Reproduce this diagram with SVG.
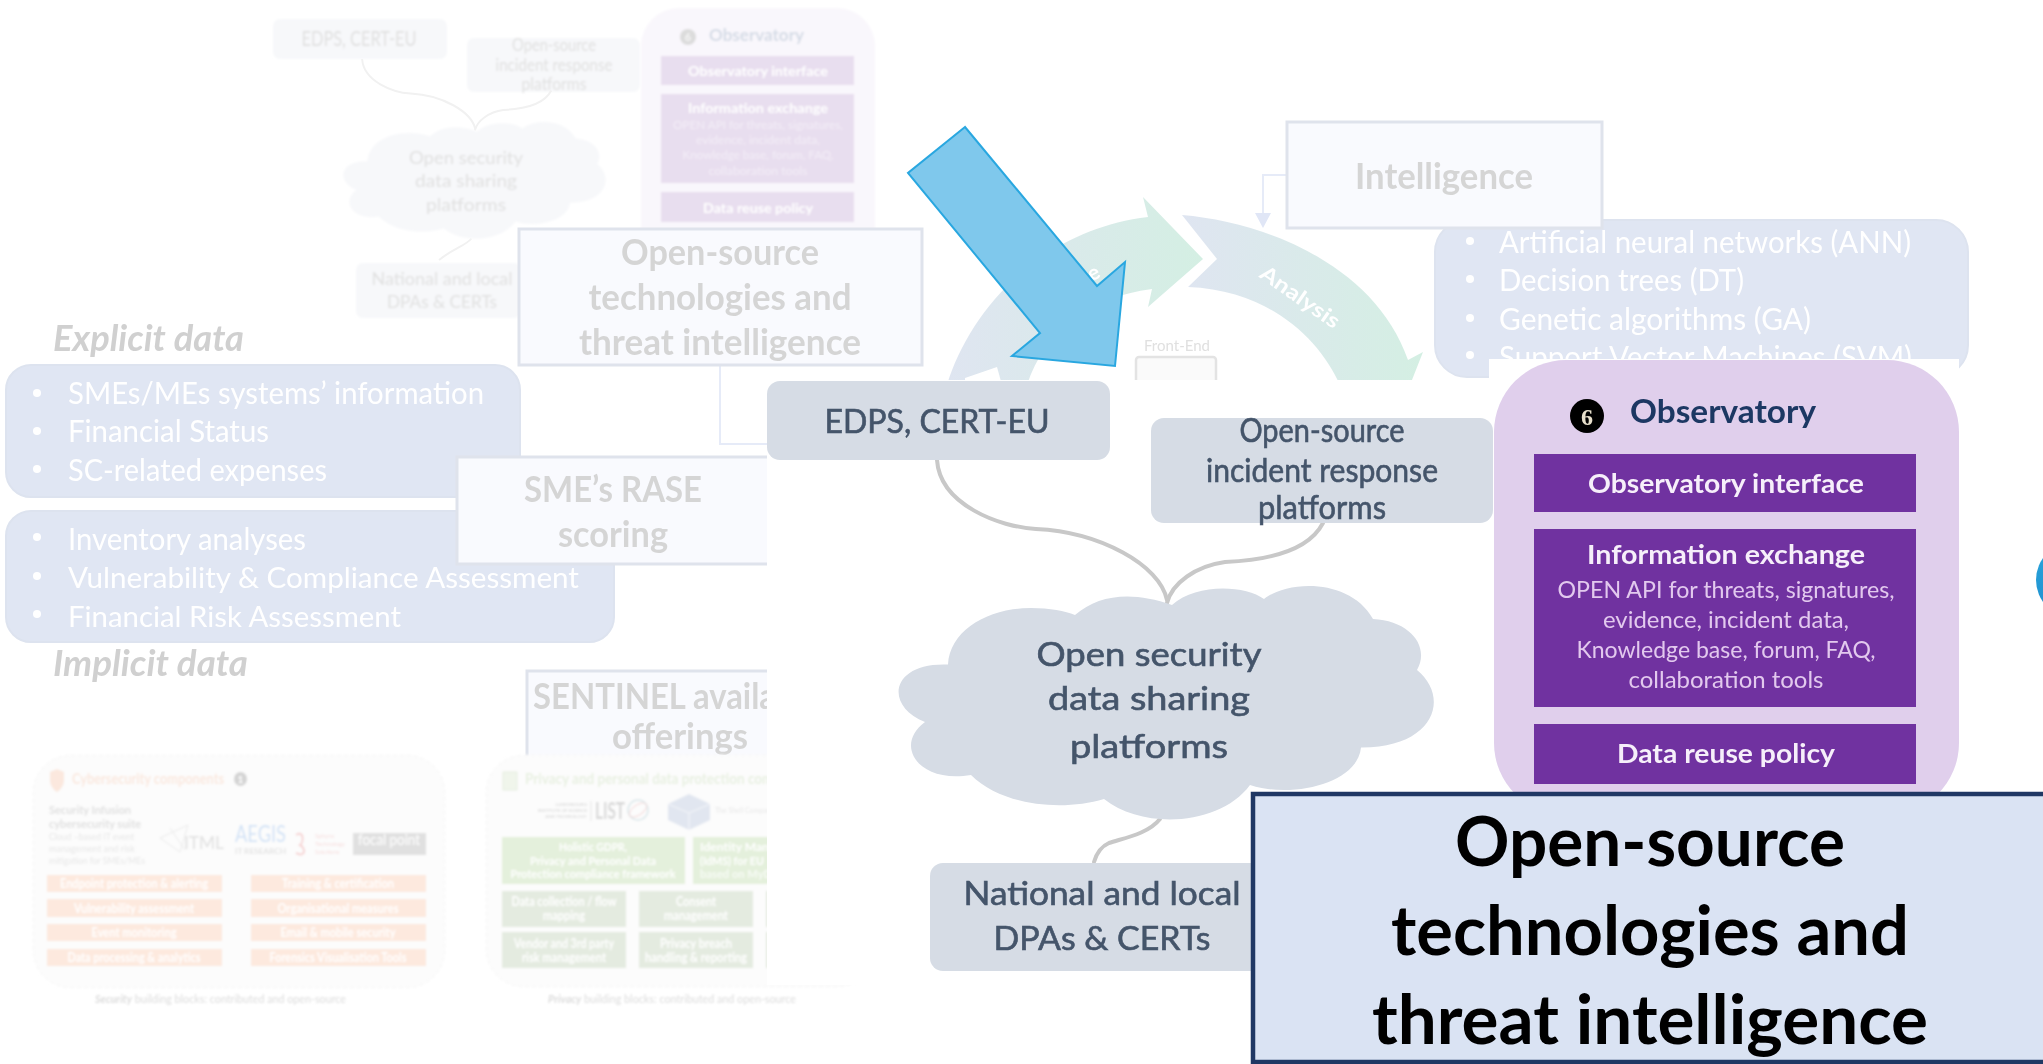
<svg xmlns="http://www.w3.org/2000/svg" xmlns:xlink="http://www.w3.org/1999/xlink" width="2043" height="1064" viewBox="0 0 2043 1064">
<style>
text{font-family:Lato,"Liberation Sans",sans-serif}
.m{text-anchor:middle}
.fbox{fill:#f9fafe;stroke:#dfe3ec;stroke-width:3}
.ft{fill:#d5d5d5;font-weight:700;font-size:36px}
.fi{fill:#d0d0d0;font-weight:700;font-style:italic;font-size:36px}
.list{fill:#e0e6f3;stroke:#dde3ef;stroke-width:2}
.li{fill:#fff;font-size:30px}
.li2{fill:#fff;font-size:28px}
.gs{fill:#f7f8fa}
.gst{fill:#e0e0e0;font-size:21px}
.gss{fill:#e0e0e0;font-size:17.5px}
.fp{fill:#e8deef}
.fpt{fill:#fff;font-weight:700;font-size:14px}
.fps{fill:#f3edf7;font-size:12px}
.pan{fill:#fcfcfc;stroke:#f6f6f6;stroke-width:1;stroke-dasharray:4 3}
.or{fill:#fde9de}
.ort{fill:#fff;font-weight:700;font-size:13px}
.gr{fill:#e4f0dc}
.gr2{fill:#e4ebe0}
.grt{fill:#fff;font-weight:700;font-size:13.5px}
.cap{fill:#dcdcdc;font-size:12px}
.g{fill:#d6dce5}
.gt{fill:#44546a;stroke:#44546a;stroke-width:.6;font-size:32px}
.gc{fill:none;stroke:#c8c8c8;stroke-width:4;stroke-linecap:round}
.fc{fill:none;stroke:#f1f1f1;stroke-width:4}
.p{fill:#7030a0}
.pt{fill:#f6effa;font-weight:700;font-size:26px}
.ps{fill:#e2c9ee;font-size:23px}
.ob{fill:#e0cfec}
.bt{fill:#000;font-weight:700;font-size:69px}
</style>
<defs>
<filter id="b" x="-5%" y="-5%" width="110%" height="110%"><feGaussianBlur stdDeviation="0.9"/></filter>
<filter id="b2" x="-5%" y="-5%" width="110%" height="110%"><feGaussianBlur stdDeviation="0.55"/></filter>
<linearGradient id="arcG" x1="0" y1="0" x2="1" y2="0"><stop offset="0" stop-color="#dfe5f1"/><stop offset="1" stop-color="#d4efe3"/></linearGradient>
<linearGradient id="ball" x1="0" y1="0" x2="0" y2="1"><stop offset="0" stop-color="#29a6dc"/><stop offset="1" stop-color="#1f8fcf"/></linearGradient>
<path id="cloud" d="M948 664.500C950 630 988 608 1031 608C1050 608 1065 611 1075 615C1099 594 1133 591 1172 605C1196 583 1245 585 1264 599C1288 580 1350 578 1373 619C1411 621 1430 647 1417 670C1451 698 1434 748 1361 747.500C1358 783 1293 799 1250 785C1220 826 1143 830 1104 799C1060.500 812 1001 805 971 775C919 784 893 745.500 925 722C884 706 890 662 948 664.500Z"/>
</defs>
<rect width="2043" height="1064" fill="#fff"/>

<g id="faded-edps" filter="url(#b)"><rect class="gs" x="273" y="19" width="174" height="40" rx="7"/><text class="gst m" x="359" y="46" textLength="115" lengthAdjust="spacingAndGlyphs">EDPS, CERT-EU</text></g>
<g id="faded-incident" filter="url(#b)"><rect class="gs" x="467" y="38" width="173" height="54" rx="7"/><text class="gss m" x="554" y="51" textLength="84" lengthAdjust="spacingAndGlyphs">Open-source</text><text class="gss m" x="554" y="71" textLength="117" lengthAdjust="spacingAndGlyphs">incident response</text><text class="gss m" x="554" y="90" textLength="65" lengthAdjust="spacingAndGlyphs">platforms</text></g>
<g id="faded-connectors" transform="translate(-97,-171) scale(.49,.5)" filter="url(#b)">
<path class="fc" d="M937 460C940 505 1000 527 1036 529C1100 532 1160 565 1168 600"/>
<path class="fc" d="M1323 523C1310 548 1274 560 1225 562C1196 566 1172 583 1167 603"/>
<path class="fc" d="M1160 819C1148 834 1124 838 1094 862"/>
</g>
<g id="faded-cloud" filter="url(#b)"><use xlink:href="#cloud" href="#cloud" transform="translate(-97,-171) scale(.49,.5)" fill="#f7f8fa"/><text class="gss m" x="466" y="164" textLength="114" lengthAdjust="spacingAndGlyphs">Open security</text><text class="gss m" x="466" y="187" textLength="102" lengthAdjust="spacingAndGlyphs">data sharing</text><text class="gss m" x="466" y="211" textLength="80" lengthAdjust="spacingAndGlyphs">platforms</text></g>
<g id="faded-national" filter="url(#b)"><rect class="gs" x="356" y="263" width="165" height="55" rx="7"/><text class="gss m" x="442" y="285" textLength="141" lengthAdjust="spacingAndGlyphs">National and local</text><text class="gss m" x="442" y="308" textLength="110" lengthAdjust="spacingAndGlyphs">DPAs &amp; CERTs</text></g>
<g id="faded-observatory" filter="url(#b)">
<rect x="641" y="8" width="234" height="290" rx="38" fill="#f9f7fc"/>
<circle cx="688" cy="37" r="8" fill="#dcdcdc"/><text x="688" y="41" class="m" fill="#f5f5f5" font-size="11" font-weight="700">6</text>
<text x="709" y="41" fill="#d5dbe6" font-weight="700" font-size="17" textLength="95" lengthAdjust="spacingAndGlyphs">Observatory</text>
<rect class="fp" x="661" y="56" width="193" height="29"/><text class="fpt m" x="758" y="76" textLength="140" lengthAdjust="spacingAndGlyphs">Observatory interface</text>
<rect class="fp" x="661" y="94" width="193" height="89"/><text class="fpt m" x="758" y="113" textLength="140" lengthAdjust="spacingAndGlyphs">Information exchange</text>
<text class="fps m" x="758" y="129" textLength="170" lengthAdjust="spacingAndGlyphs">OPEN API for threats, signatures,</text><text class="fps m" x="758" y="144" textLength="124" lengthAdjust="spacingAndGlyphs">evidence, incident data,</text><text class="fps m" x="758" y="159" textLength="151" lengthAdjust="spacingAndGlyphs">Knowledge base, forum, FAQ,</text><text class="fps m" x="758" y="175" textLength="99" lengthAdjust="spacingAndGlyphs">collaboration tools</text>
<rect class="fp" x="661" y="192" width="193" height="30"/><text class="fpt m" x="758" y="213" textLength="110" lengthAdjust="spacingAndGlyphs">Data reuse policy</text>
</g>

<g id="cycle" filter="url(#b2)">
<path fill="url(#arcG)" d="M947 385C970 310 1040 230 1148 217L1143 197L1203 259L1148 307L1152 289C1090 297 1045 330 1027 385Z"/>
<path fill="#fff" d="M965 378L997 367L1002 385L965 385Z"/>
<path fill="url(#arcG)" d="M1182 215C1265 222 1375 265 1408 360L1423 352L1410 385H1340C1320 340 1270 290 1188 287L1217 259Z"/>
<text x="1093" y="280" fill="#fff" font-weight="700" font-size="21" class="m" transform="rotate(-28 1093 272)">e</text>
<text x="0" y="0" fill="#fff" font-weight="700" font-size="21" class="m" transform="translate(1296,303) rotate(35)" textLength="92" lengthAdjust="spacingAndGlyphs">Analysis</text>
<text x="1177" y="351" class="m" fill="#e0e0e0" font-size="15">Front-End</text>
<rect x="1136" y="357" width="80" height="40" rx="3" fill="#fafafa" stroke="#e3e3e3" stroke-width="2.500"/>
</g>

<g id="algorithms" filter="url(#b2)">
<rect class="list" x="1435" y="220" width="533" height="157" rx="32"/>
<g fill="#fff"><circle cx="1470" cy="241" r="4"/><circle cx="1470" cy="279" r="4"/><circle cx="1470" cy="318" r="4"/><circle cx="1470" cy="355" r="4"/></g>
<text class="li" x="1499" y="253" textLength="412" lengthAdjust="spacingAndGlyphs">Artificial neural networks (ANN)</text>
<text class="li" x="1499" y="291" textLength="245" lengthAdjust="spacingAndGlyphs">Decision trees (DT)</text>
<text class="li" x="1499" y="330" textLength="312" lengthAdjust="spacingAndGlyphs">Genetic algorithms (GA)</text>
<text class="li" x="1499" y="368" textLength="413" lengthAdjust="spacingAndGlyphs">Support Vector Machines (SVM)</text>
</g>
<g id="connectors-faded" fill="none" stroke="#e6ebf8" stroke-width="2" filter="url(#b2)">
<path d="M1286 175H1263V215"/><path d="M720 365V444H767"/><path d="M1255 213H1271L1263 228Z" fill="#e0e6f6" stroke="none"/>
</g>
<g id="intelligence" filter="url(#b2)"><rect class="fbox" x="1287" y="122" width="315" height="106"/><text class="ft m" x="1444" y="189" textLength="178" lengthAdjust="spacingAndGlyphs">Intelligence</text></g>

<g id="explicit-data" filter="url(#b2)">
<text class="fi" x="53" y="351" textLength="191" lengthAdjust="spacingAndGlyphs">Explicit data</text>
<rect class="list" x="6" y="365" width="514" height="132" rx="25"/>
<g fill="#fff"><circle cx="37" cy="393" r="4"/><circle cx="37" cy="431" r="4"/><circle cx="37" cy="469" r="4"/></g>
<text class="li" x="68" y="404" textLength="416" lengthAdjust="spacingAndGlyphs">SMEs/MEs systems’ information</text>
<text class="li" x="68" y="442" textLength="201" lengthAdjust="spacingAndGlyphs">Financial Status</text>
<text class="li" x="68" y="481" textLength="259" lengthAdjust="spacingAndGlyphs">SC-related expenses</text>
</g>
<g id="implicit-data" filter="url(#b2)">
<rect class="list" x="6" y="511" width="608" height="131" rx="25"/>
<g fill="#fff"><circle cx="37" cy="537" r="4"/><circle cx="37" cy="576" r="4"/><circle cx="37" cy="614" r="4"/></g>
<text class="li" x="68" y="550" textLength="238" lengthAdjust="spacingAndGlyphs">Inventory analyses</text>
<text class="li2" x="68" y="588" textLength="511" lengthAdjust="spacingAndGlyphs">Vulnerability &amp; Compliance Assessment</text>
<text class="li2" x="68" y="627" textLength="333" lengthAdjust="spacingAndGlyphs">Financial Risk Assessment</text>
<text class="fi" x="53" y="676" textLength="195" lengthAdjust="spacingAndGlyphs">Implicit data</text>
</g>
<g id="rase" filter="url(#b2)"><rect class="fbox" x="457" y="457" width="340" height="107"/><text class="ft m" x="613" y="502" textLength="178" lengthAdjust="spacingAndGlyphs">SME’s RASE</text><text class="ft m" x="613" y="547" textLength="110" lengthAdjust="spacingAndGlyphs">scoring</text></g>
<g id="open-source-faded" filter="url(#b2)"><rect class="fbox" x="519" y="229" width="403" height="136"/><text class="ft m" x="720" y="265" textLength="198" lengthAdjust="spacingAndGlyphs">Open-source</text><text class="ft m" x="720" y="310" textLength="263" lengthAdjust="spacingAndGlyphs">technologies and</text><text class="ft m" x="720" y="355" textLength="282" lengthAdjust="spacingAndGlyphs">threat intelligence</text></g>
<g id="sentinel" filter="url(#b2)"><rect class="fbox" x="527" y="671" width="290" height="110"/><text class="ft" x="533" y="709" textLength="243" lengthAdjust="spacingAndGlyphs">SENTINEL availa</text><text class="ft m" x="680" y="749" textLength="136" lengthAdjust="spacingAndGlyphs">offerings</text></g>

<g id="cybersecurity" filter="url(#b)">
<rect class="pan" x="33" y="755" width="412" height="233" rx="38"/>
<path d="M50 772L57 769L64 772V780C64 786 60 790 57 792C54 790 50 786 50 780Z" fill="#fbe8de"/>
<text x="72" y="784" fill="#fbe8de" font-weight="700" font-size="16" textLength="152" lengthAdjust="spacingAndGlyphs">Cybersecurity components</text>
<ellipse cx="240.500" cy="779" rx="6.500" ry="7" fill="#d4d4d4"/><text x="240.500" y="783" class="m" fill="#fff" font-size="10" font-weight="700">1</text>
<text x="49" y="814" fill="#e0e0e0" font-weight="700" font-size="12" textLength="82" lengthAdjust="spacingAndGlyphs">Security Infusion</text>
<text x="49" y="828" fill="#e0e0e0" font-weight="700" font-size="12" textLength="92" lengthAdjust="spacingAndGlyphs">cybersecurity suite</text>
<text x="49" y="840" fill="#e6e6e6" font-size="10" textLength="85" lengthAdjust="spacingAndGlyphs">Cloud –based IT event</text>
<text x="49" y="852" fill="#e6e6e6" font-size="10" textLength="86" lengthAdjust="spacingAndGlyphs">management and risk</text>
<text x="49" y="864" fill="#e6e6e6" font-size="10" textLength="96" lengthAdjust="spacingAndGlyphs">mitigation for SMEs/MEs</text>
<path d="M160 838L188 825L180 852ZM170 828L185 850" fill="none" stroke="#ebebeb"/>
<text x="184" y="849" fill="#e0e0e0" font-size="18" textLength="40" lengthAdjust="spacingAndGlyphs">ITML</text>
<text x="235" y="842" fill="#d3e3f6" font-size="24" textLength="51" lengthAdjust="spacingAndGlyphs">AEGIS</text>
<text x="235" y="854" fill="#e4e4e4" font-size="7" font-weight="700" textLength="51" lengthAdjust="spacingAndGlyphs">IT RESEARCH</text>
<path d="M296 835C304 830 304 842 300 845C306 848 306 858 296 853" fill="none" stroke="#f6d4d4" stroke-width="2"/>
<g fill="#f6dfdf" font-size="6"><text x="315" y="838">Sphynx</text><text x="315" y="846">Technology</text><text x="315" y="854">Solutions</text></g>
<rect x="353" y="833" width="73" height="22" fill="#e0e0e0"/><text x="389" y="845" class="m" fill="#fff" font-size="15" textLength="62" lengthAdjust="spacingAndGlyphs">focal point</text>
<rect class="or" x="47" y="875" width="175" height="17"/><text class="ort m" x="134" y="888" textLength="148" lengthAdjust="spacingAndGlyphs">Endpoint protection &amp; alerting</text>
<rect class="or" x="47" y="899" width="175" height="18"/><text class="ort m" x="134" y="913" textLength="120" lengthAdjust="spacingAndGlyphs">Vulnerability assessment</text>
<rect class="or" x="47" y="924" width="175" height="17"/><text class="ort m" x="134" y="937" textLength="85" lengthAdjust="spacingAndGlyphs">Event monitoring</text>
<rect class="or" x="47" y="949" width="175" height="17"/><text class="ort m" x="134" y="962" textLength="133" lengthAdjust="spacingAndGlyphs">Data processing &amp; analytics</text>
<rect class="or" x="251" y="875" width="175" height="17"/><text class="ort m" x="338" y="888" textLength="112" lengthAdjust="spacingAndGlyphs">Training &amp; certification</text>
<rect class="or" x="251" y="899" width="175" height="18"/><text class="ort m" x="338" y="913" textLength="121" lengthAdjust="spacingAndGlyphs">Organisational measures</text>
<rect class="or" x="251" y="924" width="175" height="17"/><text class="ort m" x="338" y="937" textLength="115" lengthAdjust="spacingAndGlyphs">Email &amp; mobile security</text>
<rect class="or" x="251" y="949" width="175" height="17"/><text class="ort m" x="338" y="962" textLength="137" lengthAdjust="spacingAndGlyphs">Forensics Visualisation Tools</text>
<text class="cap" x="95" y="1003" textLength="251" lengthAdjust="spacingAndGlyphs"><tspan font-weight="700" font-style="italic">Security</tspan> building blocks: contributed  and open-source</text>
</g>

<g id="privacy" filter="url(#b)">
<rect class="pan" x="486" y="755" width="389" height="232" rx="38"/>
<rect x="503" y="772" width="14" height="18" fill="#f0f5eb" stroke="#e6eee0"/>
<text x="525" y="784" fill="#e8f0e1" font-weight="700" font-size="16" textLength="256" lengthAdjust="spacingAndGlyphs">Privacy and personal data protection comp</text>
<g fill="#dcdcdc" font-size="4.500" text-anchor="end" font-weight="700"><text x="587" y="806">LUXEMBOURG</text><text x="587" y="812">INSTITUTE OF SCIENCE</text><text x="587" y="818">AND TECHNOLOGY</text></g>
<path d="M591 801V821" stroke="#e5e5e5"/>
<text x="595" y="819" fill="#d8d8d8" font-size="22" font-weight="700" textLength="30" lengthAdjust="spacingAndGlyphs">LIST</text>
<circle cx="638" cy="810" r="10" fill="none" stroke="#dbe7ea" stroke-width="1.500"/><ellipse cx="638" cy="810" rx="10" ry="5" fill="none" stroke="#f3d9d9" transform="rotate(-35 638 810)"/>
<path d="M689 794L710 804V820L689 830L668 820V804Z" fill="#e1e6f0"/><path d="M668 804L689 813L710 804M689 813V830" fill="none" stroke="#f5f6fa"/>
<text x="715" y="813" fill="#e8e8e8" font-size="7">The Shell Company</text>
<rect class="gr" x="502" y="837" width="183" height="47"/>
<text class="grt m" x="593" y="851" font-size="12" style="font-size:12px" textLength="68" lengthAdjust="spacingAndGlyphs">Holistic GDPR,</text><text class="grt m" x="593" y="865" style="font-size:12px" textLength="126" lengthAdjust="spacingAndGlyphs">Privacy and Personal Data</text><text class="grt m" x="593" y="878" style="font-size:12px" textLength="165" lengthAdjust="spacingAndGlyphs">Protection compliance framework</text>
<rect class="gr" x="693" y="837" width="90" height="47"/>
<text class="grt" x="700" y="851" style="font-size:12px" textLength="75" lengthAdjust="spacingAndGlyphs">Identity Mana</text><text class="grt" x="700" y="865" style="font-size:12px" textLength="64" lengthAdjust="spacingAndGlyphs">(IdMS) for EU</text><text class="grt" x="700" y="878" style="font-size:12px" fill-opacity=".7" textLength="72" lengthAdjust="spacingAndGlyphs">based on MyD</text>
<rect class="gr2" x="502" y="891" width="124" height="36"/><text class="grt m" x="564" y="906" textLength="105" lengthAdjust="spacingAndGlyphs">Data collection / flow</text><text class="grt m" x="564" y="920" textLength="42" lengthAdjust="spacingAndGlyphs">mapping</text>
<rect class="gr2" x="639" y="891" width="114" height="36"/><text class="grt m" x="696" y="906" textLength="40" lengthAdjust="spacingAndGlyphs">Consent</text><text class="grt m" x="696" y="920" textLength="64" lengthAdjust="spacingAndGlyphs">management</text>
<rect class="gr2" x="502" y="932" width="124" height="36"/><text class="grt m" x="564" y="948" textLength="100" lengthAdjust="spacingAndGlyphs">Vendor and 3rd party</text><text class="grt m" x="564" y="962" textLength="84" lengthAdjust="spacingAndGlyphs">risk management</text>
<rect class="gr2" x="639" y="932" width="114" height="36"/><text class="grt m" x="696" y="948" textLength="72" lengthAdjust="spacingAndGlyphs">Privacy breach</text><text class="grt m" x="696" y="962" textLength="102" lengthAdjust="spacingAndGlyphs">handling &amp; reporting</text>
<rect class="gr2" x="766" y="891" width="20" height="36"/><rect class="gr2" x="766" y="932" width="20" height="36"/>
</g>

<g id="mask"><rect x="767" y="380" width="1276" height="605" fill="#fff"/><rect x="1489" y="359" width="470" height="21" fill="#fff"/></g>

<g id="privacy-caption" filter="url(#b)"><text class="cap" x="548" y="1003" textLength="248" lengthAdjust="spacingAndGlyphs"><tspan font-weight="700" font-style="italic">Privacy</tspan> building blocks: contributed  and open-source</text></g>

<g id="connectors" filter="url(#b2)">
<path class="gc" d="M937 460C940 505 1000 527 1036 529C1100 532 1160 565 1167 600"/>
<path class="gc" d="M1323 523C1310 548 1274 560 1225 562C1196 566 1172 583 1167 603"/>
<path class="gc" d="M1160 819C1148 834 1124 838 1109 843C1100 847 1096 855 1094 862"/>
</g>
<g id="edps" filter="url(#b2)"><rect class="g" x="767" y="381" width="343" height="79" rx="13"/><text class="gt m" x="937" y="433" textLength="225" lengthAdjust="spacingAndGlyphs">EDPS, CERT-EU</text></g>
<g id="incident" filter="url(#b2)"><rect class="g" x="1151" y="418" width="342" height="105" rx="13"/><text class="gt m" x="1322" y="442" textLength="165" lengthAdjust="spacingAndGlyphs">Open-source</text><text class="gt m" x="1322" y="482" textLength="232" lengthAdjust="spacingAndGlyphs">incident response</text><text class="gt m" x="1322" y="519" textLength="128" lengthAdjust="spacingAndGlyphs">platforms</text></g>
<g id="sharing-cloud" filter="url(#b2)"><use xlink:href="#cloud" href="#cloud" class="g"/><text class="gt m" x="1149" y="666" textLength="225" lengthAdjust="spacingAndGlyphs">Open security</text><text class="gt m" x="1149" y="710" textLength="202" lengthAdjust="spacingAndGlyphs">data sharing</text><text class="gt m" x="1149" y="758" textLength="158" lengthAdjust="spacingAndGlyphs">platforms</text></g>
<g id="national" filter="url(#b2)"><rect class="g" x="930" y="863" width="340" height="108" rx="13"/><text class="gt m" x="1102" y="905" textLength="277" lengthAdjust="spacingAndGlyphs">National and local</text><text class="gt m" x="1102" y="950" textLength="217" lengthAdjust="spacingAndGlyphs">DPAs &amp; CERTs</text></g>
<g id="observatory" filter="url(#b2)">
<rect class="ob" x="1494" y="360" width="465" height="455" rx="72"/>
<circle cx="1587" cy="416" r="17" fill="#000"/><text x="1587" y="425" class="m" fill="#e8e0cc" font-size="24" font-weight="700" style="font-family:'Liberation Serif',serif">6</text>
<text x="1630" y="423" fill="#1f3864" font-weight="700" font-size="33" textLength="186" lengthAdjust="spacingAndGlyphs">Observatory</text>
<rect class="p" x="1534" y="454" width="382" height="58"/><text class="pt m" x="1726" y="493" textLength="276" lengthAdjust="spacingAndGlyphs">Observatory interface</text>
<rect class="p" x="1534" y="529" width="382" height="178"/><text class="pt m" x="1726" y="564" textLength="278" lengthAdjust="spacingAndGlyphs">Information exchange</text>
<text class="ps m" x="1726" y="598" textLength="337" lengthAdjust="spacingAndGlyphs">OPEN API for threats, signatures,</text><text class="ps m" x="1726" y="628" textLength="246" lengthAdjust="spacingAndGlyphs">evidence, incident data,</text><text class="ps m" x="1726" y="658" textLength="299" lengthAdjust="spacingAndGlyphs">Knowledge base, forum, FAQ,</text><text class="ps m" x="1726" y="688" textLength="195" lengthAdjust="spacingAndGlyphs">collaboration tools</text>
<rect class="p" x="1534" y="724" width="382" height="60"/><text class="pt m" x="1726" y="763" textLength="218" lengthAdjust="spacingAndGlyphs">Data reuse policy</text>
</g>
<circle id="edge-node" cx="2074" cy="580" r="38" fill="url(#ball)"/>
<g id="open-source-main"><rect x="1253" y="794" width="800" height="268" fill="#dae3f3" stroke="#203864" stroke-width="4.500"/>
<text class="bt m" x="1650" y="866" textLength="390" lengthAdjust="spacingAndGlyphs">Open-source</text><text class="bt m" x="1650" y="955" textLength="518" lengthAdjust="spacingAndGlyphs">technologies and</text><text class="bt m" x="1650" y="1044" textLength="556" lengthAdjust="spacingAndGlyphs">threat intelligence</text></g>
<polygon id="arrow" points="965,127 908,173 1040,333 1012,356 1115,366 1125,262 1097,286" fill="#7fc8ec" stroke="#29a7e0" stroke-width="2"/>
</svg>
